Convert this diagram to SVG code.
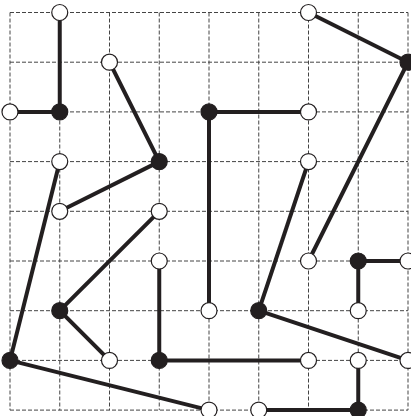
<svg xmlns="http://www.w3.org/2000/svg" width="411" height="416" viewBox="0 0 411 416">
<style>
.grid line{stroke:#444;stroke-width:1;stroke-dasharray:4 2;fill:none}
.edges line{stroke:#231f20;stroke-width:4;stroke-linecap:butt}
.w{fill:#fff;stroke:#231f20;stroke-width:1.2}
.b{fill:#231f20;stroke:#231f20;stroke-width:1.2}
</style>
<rect width="411" height="416" fill="#fff"/>
<g class="grid" id="grid">
<line x1="10" y1="12.5" x2="408" y2="12.5"/>
<line x1="10" y1="62.2" x2="408" y2="62.2"/>
<line x1="10" y1="111.9" x2="408" y2="111.9"/>
<line x1="10" y1="161.6" x2="408" y2="161.6"/>
<line x1="10" y1="211.3" x2="408" y2="211.3"/>
<line x1="10" y1="261" x2="408" y2="261"/>
<line x1="10" y1="310.7" x2="408" y2="310.7"/>
<line x1="10" y1="360.4" x2="408" y2="360.4"/>
<line x1="10" y1="410.1" x2="408" y2="410.1"/>
<line x1="10" y1="12.5" x2="10" y2="410.1"/>
<line x1="59.75" y1="12.5" x2="59.75" y2="410.1"/>
<line x1="109.5" y1="12.5" x2="109.5" y2="410.1"/>
<line x1="159.25" y1="12.5" x2="159.25" y2="410.1"/>
<line x1="209" y1="12.5" x2="209" y2="410.1"/>
<line x1="258.75" y1="12.5" x2="258.75" y2="410.1"/>
<line x1="308.5" y1="12.5" x2="308.5" y2="410.1"/>
<line x1="358.25" y1="12.5" x2="358.25" y2="410.1"/>
<line x1="408" y1="12.5" x2="408" y2="410.1"/>
</g>
<g class="edges" id="connectors">
<line x1="59.75" y1="12.5" x2="59.75" y2="111.9"/>
<line x1="10" y1="111.9" x2="59.75" y2="111.9"/>
<line x1="109.5" y1="62.2" x2="159.25" y2="161.6"/>
<line x1="159.25" y1="161.6" x2="59.75" y2="211.3"/>
<line x1="59.75" y1="161.6" x2="10" y2="360.4"/>
<line x1="209" y1="111.9" x2="308.5" y2="111.9"/>
<line x1="209" y1="111.9" x2="209" y2="310.7"/>
<line x1="308.5" y1="12.5" x2="408" y2="62.2"/>
<line x1="408" y1="62.2" x2="308.5" y2="261"/>
<line x1="308.5" y1="161.6" x2="258.75" y2="310.7"/>
<line x1="159.25" y1="211.3" x2="59.75" y2="310.7"/>
<line x1="59.75" y1="310.7" x2="109.5" y2="360.4"/>
<line x1="159.25" y1="261" x2="159.25" y2="360.4"/>
<line x1="159.25" y1="360.4" x2="308.5" y2="360.4"/>
<line x1="10" y1="360.4" x2="209" y2="410.1"/>
<line x1="358.25" y1="261" x2="408" y2="261"/>
<line x1="358.25" y1="261" x2="358.25" y2="310.7"/>
<line x1="258.75" y1="310.7" x2="408" y2="360.4"/>
<line x1="358.25" y1="360.4" x2="358.25" y2="410.1"/>
<line x1="258.75" y1="410.1" x2="358.25" y2="410.1"/>
</g>
<g id="n1_0"><circle class="w" cx="59.75" cy="12.5" r="8"/></g>
<g id="n6_0"><circle class="w" cx="308.5" cy="12.5" r="8"/></g>
<g id="n2_1"><circle class="w" cx="109.5" cy="62.2" r="8"/></g>
<g id="n8_1"><circle class="b" cx="408" cy="62.2" r="8"/></g>
<g id="n0_2"><circle class="w" cx="10" cy="111.9" r="8"/></g>
<g id="n1_2"><circle class="b" cx="59.75" cy="111.9" r="8"/></g>
<g id="n4_2"><circle class="b" cx="209" cy="111.9" r="8"/></g>
<g id="n6_2"><circle class="w" cx="308.5" cy="111.9" r="8"/></g>
<g id="n1_3"><circle class="w" cx="59.75" cy="161.6" r="8"/></g>
<g id="n3_3"><circle class="b" cx="159.25" cy="161.6" r="8"/></g>
<g id="n6_3"><circle class="w" cx="308.5" cy="161.6" r="8"/></g>
<g id="n1_4"><circle class="w" cx="59.75" cy="211.3" r="8"/></g>
<g id="n3_4"><circle class="w" cx="159.25" cy="211.3" r="8"/></g>
<g id="n3_5"><circle class="w" cx="159.25" cy="261" r="8"/></g>
<g id="n6_5"><circle class="w" cx="308.5" cy="261" r="8"/></g>
<g id="n7_5"><circle class="b" cx="358.25" cy="261" r="8"/></g>
<g id="n8_5"><circle class="w" cx="408" cy="261" r="8"/></g>
<g id="n1_6"><circle class="b" cx="59.75" cy="310.7" r="8"/></g>
<g id="n4_6"><circle class="w" cx="209" cy="310.7" r="8"/></g>
<g id="n5_6"><circle class="b" cx="258.75" cy="310.7" r="8"/></g>
<g id="n7_6"><circle class="w" cx="358.25" cy="310.7" r="8"/></g>
<g id="n0_7"><circle class="b" cx="10" cy="360.4" r="8"/></g>
<g id="n2_7"><circle class="w" cx="109.5" cy="360.4" r="8"/></g>
<g id="n3_7"><circle class="b" cx="159.25" cy="360.4" r="8"/></g>
<g id="n6_7"><circle class="w" cx="308.5" cy="360.4" r="8"/></g>
<g id="n7_7"><circle class="w" cx="358.25" cy="360.4" r="8"/></g>
<g id="n8_7"><circle class="w" cx="408" cy="360.4" r="8"/></g>
<g id="n4_8"><circle class="w" cx="209" cy="410.1" r="8"/></g>
<g id="n5_8"><circle class="w" cx="258.75" cy="410.1" r="8"/></g>
<g id="n7_8"><circle class="b" cx="358.25" cy="410.1" r="8"/></g>
</svg>
